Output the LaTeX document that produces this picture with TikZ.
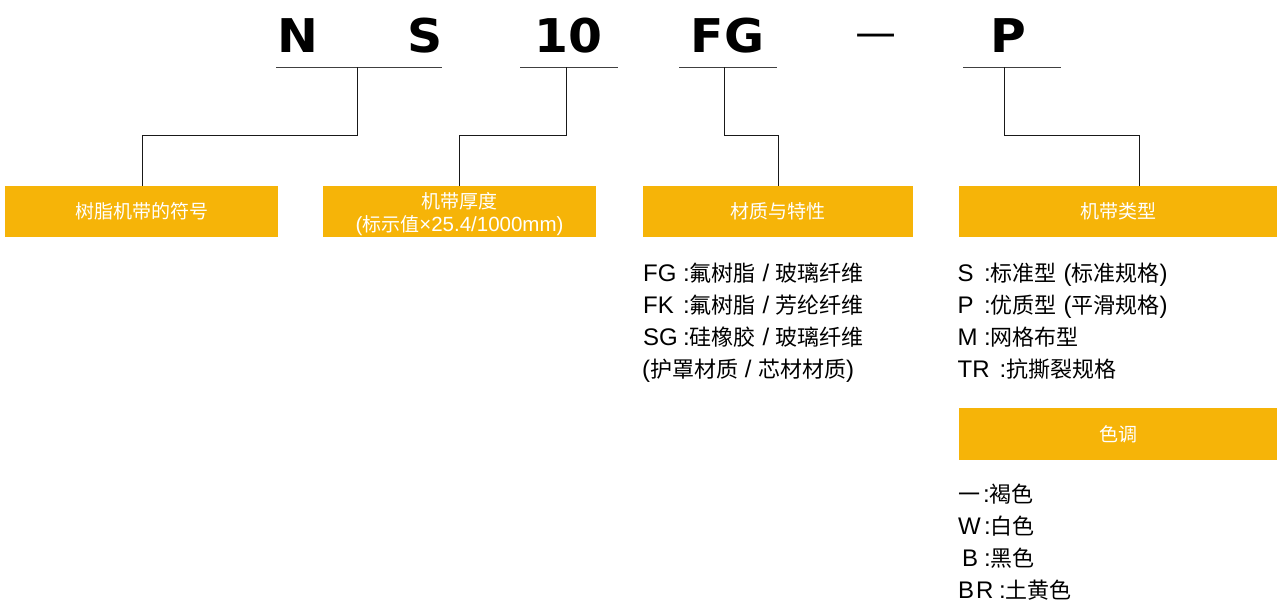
\documentclass[tikz,border=0pt]{standalone}
\usepackage{fontspec}
\setmainfont{Liberation Sans}
\newfontfamily\cjk{Noto Sans CJK SC}
\newfontfamily\codefont{DejaVu Sans}
\definecolor{ybox}{RGB}{246,180,8}
\newcommand\zh[1]{{\cjk\fontsize{22}{22}\selectfont #1}}
\newcommand\lab[2]{\makebox[#1][l]{#2}:}
\begin{document}
\begin{tikzpicture}[x=1pt,y=-1pt,
  code/.style={font=\codefont\fontsize{46.5}{46.5}\selectfont\bfseries, anchor=base, inner sep=0},
  cat/.style={fill=ybox, text=white, font=\cjk\fontsize{19}{21}\selectfont, minimum height=51pt, inner sep=0, align=center},
  item/.style={font=\fontsize{24}{24}\selectfont, anchor=base west, inner sep=0},
  uline/.style={line width=0.8pt, draw=black!75},
  conn/.style={line width=0.8pt, draw=black!90}]
\useasboundingbox (0,0) rectangle (1285,603);

% code letters
\node[code] (cN)  at (298,52) {\scalebox{1.05}[1]{N}};
\node[code] (cS)  at (425,52) {\scalebox{1.05}[1]{S}};
\node[code] (c10) at (568.5,52) {\scalebox{1.05}[1]{10}};
\node[code] (cFG) at (727.5,52) {\scalebox{1.05}[1]{FG}};
\node[font=\cjk\fontsize{46}{46}\selectfont, anchor=base, inner sep=0] (cdash) at (876.5,48) {—};
\node[code] (cP)  at (1008,52) {\scalebox{1.05}[1]{P}};

% underlines
\draw[uline] (276,67) -- (442,67);
\coordinate (u1) at (357,67);
\draw[uline] (520,67) -- (618,67);
\coordinate (u2) at (566,67);
\draw[uline] (679,67) -- (777,67);
\coordinate (u3) at (724,67);
\draw[uline] (963,67) -- (1061,67);
\coordinate (u4) at (1004,67);

% category boxes
\node[cat, minimum width=273pt] (b1) at (141.5,211.5) {树脂机带的符号};
\node[cat, minimum width=273pt] (b2) at (459.5,211.5)
  {\raisebox{-3.5pt}[\height][\depth]{\begin{tabular}{@{}c@{}}机带厚度\\{\rmfamily\fontsize{20.5}{21}\selectfont(}标示值{\rmfamily\fontsize{20.5}{21}\selectfont×25.4/1000mm)}\end{tabular}}};
\node[cat, minimum width=270pt] (b3) at (778,211.5) {材质与特性};
\node[cat, minimum width=318pt] (b4) at (1118,211.5) {机带类型};
\node[cat, minimum width=318pt, minimum height=52pt] (b5) at (1118,434) {色调};

% connectors
\draw[conn] (u1) -- ++(0,68) -| ([xshift=138pt]b1.north west);
\draw[conn] (u2) -- ++(0,68) -| (b2.north);
\draw[conn] (u3) -- ++(0,68) -| (b3.north);
\draw[conn] (u4) -- ++(0,68) -| ([xshift=181pt]b4.north west);

% material list
\node[item] (m1) at (643,281.5) {\lab{40pt}{FG}\zh{氟树脂} / \zh{玻璃纤维}};
\node[item] (m2) at (643,313.5) {\lab{40pt}{FK}\zh{氟树脂} / \zh{芳纶纤维}};
\node[item] (m3) at (643,345.5) {\lab{40pt}{SG}\zh{硅橡胶} / \zh{玻璃纤维}};
\node[item] (m4) at (642,377.5) {(\zh{护罩材质} / \zh{芯材材质})};

% type list
\node[item] (t1) at (957.5,281.5) {\lab{26.5pt}{S}\zh{标准型} (\zh{标准规格})};
\node[item] (t2) at (957.5,313.5) {\lab{26.5pt}{P}\zh{优质型} (\zh{平滑规格})};
\node[item] (t3) at (957.5,345.5) {\lab{26.5pt}{M}\zh{网格布型}};
\node[item] (t4) at (957.5,377.5) {\lab{42pt}{TR}\zh{抗撕裂规格}};

% colour list
\node[item] (k1) at (958,502.5) {\lab{25pt}{\zh{一}}\zh{褐色}};
\node[item] (k2) at (958,534.5) {\lab{26pt}{W}\zh{白色}};
\node[item] (k3) at (958,566.5) {\lab{26pt}{\hspace{4pt}B}\zh{黑色}};
\node[item] (k4) at (958,598) {\lab{41pt}{B\hspace{2pt}R}\zh{土黄色}};
\end{tikzpicture}
\end{document}
